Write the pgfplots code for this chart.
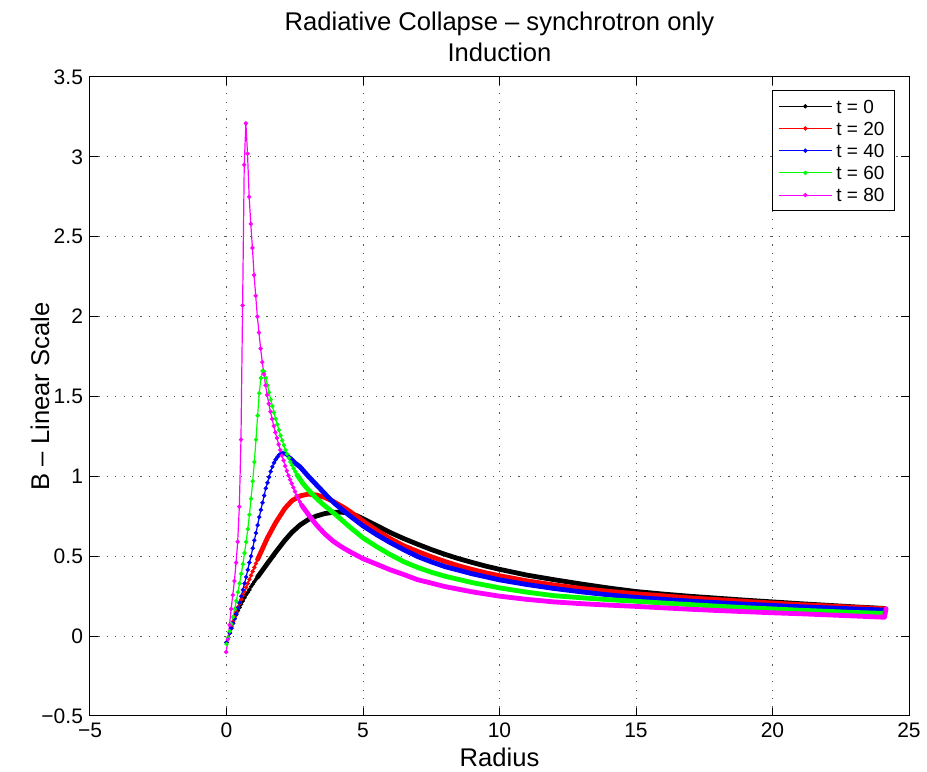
\documentclass[border=0pt]{standalone}
\usepackage{fontspec}
\setmainfont{Liberation Sans}
\usepackage{pgfplots}
\pgfplotsset{compat=1.18}
\definecolor{mred}{rgb}{1,0,0}
\definecolor{mgreen}{rgb}{0,1,0}
\definecolor{mblue}{rgb}{0,0,1}
\definecolor{mmag}{rgb}{1,0,1}
\begin{document}
\begin{tikzpicture}
\begin{axis}[
  width=409.5pt, height=319.5pt, scale only axis,
  xmin=-5, xmax=25, ymin=-0.5, ymax=3.5,
  xtick={-5,0,5,10,15,20,25},
  xticklabels={−5,0,5,10,15,20,25},
  ytick={-0.5,0,0.5,1,1.5,2,2.5,3,3.5},
  yticklabels={−0.5,0,0.5,1,1.5,2,2.5,3,3.5},
  tick align=inside, tick pos=both, major tick length=4pt,
  every tick/.style={black, line width=0.5pt},
  axis line style={black, line width=0.5pt},
  ticklabel style={font=\fontsize{10.5}{12}\selectfont},
  xmajorgrids, ymajorgrids,
  major grid style={black!65, line width=0.5pt, dash pattern=on 0.6pt off 3.6pt},
  title={Radiative Collapse – synchrotron only\\Induction},
  title style={font=\fontsize{12.8}{15.5}\selectfont, align=center, at={(axis description cs:0.5,1)}, anchor=south, inner sep=0pt, yshift=1.3pt},
  xlabel={Radius},
  xlabel style={font=\fontsize{12.8}{15}\selectfont, at={(axis description cs:0.5,-0.0642)}, anchor=center},
  ylabel={B – Linear Scale},
  ylabel style={font=\fontsize{12.8}{15}\selectfont, at={(axis description cs:-0.061,0.5)}, anchor=center, rotate=0},
  legend style={at={(1,1)}, anchor=north east, xshift=-7pt, yshift=-6.5pt, draw=black, line width=0.5pt,
    font=\fontsize{9.5}{11}\selectfont, inner xsep=3pt, inner ysep=2.5pt, row sep=0.3pt,
    nodes={text height=6.8pt, text depth=0pt, inner sep=2pt}},
  legend cell align=left,
  legend image code/.code={\draw[mark repeat=2,mark phase=2,#1,line width=0.5pt] plot coordinates {(0pt,0pt) (13.3pt,0pt) (26.6pt,0pt)};},
  mk/.style={mark=*, mark size=0.95pt, line width=0.6pt, mark options={solid, line width=0.3pt}},
  thk/.style={line width=2.4pt, line cap=round, line join=round, forget plot},
]
% ---------- t = 0 ----------
\addplot[black, mk] coordinates {
(0.00,-0.04) (0.06,-0.01) (0.12,0.02) (0.18,0.05) (0.24,0.08) (0.30,0.11) (0.36,0.135)
(0.42,0.16) (0.48,0.18) (0.54,0.20) (0.60,0.22) (0.66,0.24) (0.72,0.26) (0.78,0.275)
(0.84,0.29) (0.90,0.31) (0.96,0.325) (1.02,0.34) (1.08,0.355) (1.14,0.37) (1.20,0.385)};
\addlegendentry{t = 0}
\addplot[black, thk] coordinates {
(1.14,0.37) (1.5,0.455) (1.8,0.525) (2.14,0.60) (2.4,0.65) (2.69,0.695) (3.0,0.73)
(3.3,0.752) (3.6,0.767) (3.9,0.775) (4.2,0.776) (4.5,0.77) (4.75,0.755) (5.0,0.735)
(5.5,0.692) (6.0,0.648) (6.5,0.61) (7.0,0.575) (7.5,0.542) (8.0,0.512) (8.5,0.485)
(9.0,0.461) (9.5,0.438) (10,0.418) (11,0.382) (12,0.353) (13,0.326) (14,0.301) (15,0.279)
(16,0.263) (17,0.249) (18,0.237) (19,0.225) (20,0.214) (21,0.203) (22,0.193) (23,0.183) (24.1,0.173)};
% ---------- t = 20 ----------
\addplot[mred, mk] coordinates {
(0.00,-0.04) (0.06,-0.01) (0.12,0.025) (0.18,0.06) (0.24,0.09) (0.30,0.12) (0.36,0.15)
(0.42,0.18) (0.48,0.205) (0.54,0.23) (0.60,0.255) (0.66,0.28) (0.72,0.305) (0.78,0.33)
(0.84,0.355) (0.90,0.38) (0.96,0.405) (1.02,0.43) (1.08,0.455) (1.14,0.48) (1.20,0.505)};
\addlegendentry{t = 20}
\addplot[mred, thk] coordinates {
(1.14,0.48) (1.5,0.615) (1.8,0.71) (2.14,0.80) (2.4,0.848) (2.7,0.878) (3.0,0.889)
(3.3,0.883) (3.6,0.868) (3.91,0.843) (4.25,0.81) (4.5,0.783) (5.0,0.72) (5.5,0.662)
(6.0,0.61) (6.5,0.565) (7.0,0.53) (7.5,0.497) (8.0,0.467) (8.5,0.44) (9.0,0.417)
(9.5,0.396) (10,0.378) (11,0.346) (12,0.32) (13,0.298) (14,0.28) (15,0.265) (16,0.252)
(17,0.239) (18,0.228) (19,0.217) (20,0.207) (21,0.197) (22,0.189) (23,0.18) (24.1,0.171)};
% ---------- t = 40 ----------
\addplot[mblue, mk] coordinates {
(0.00,-0.04) (0.06,-0.01) (0.12,0.02) (0.18,0.05) (0.24,0.08) (0.30,0.11) (0.36,0.14)
(0.42,0.175) (0.48,0.21) (0.54,0.25) (0.60,0.29) (0.66,0.33) (0.72,0.37) (0.78,0.415)
(0.84,0.46) (0.90,0.50) (0.96,0.55) (1.02,0.60) (1.08,0.645) (1.14,0.695) (1.20,0.745)
(1.26,0.79) (1.32,0.835) (1.38,0.88) (1.44,0.925) (1.50,0.96) (1.56,0.995) (1.62,1.03)
(1.68,1.06) (1.74,1.085) (1.80,1.105) (1.86,1.12) (1.92,1.133) (1.98,1.141) (2.04,1.145)
(2.10,1.144) (2.16,1.14) (2.22,1.133) (2.28,1.124) (2.34,1.113) (2.40,1.10)};
\addlegendentry{t = 40}
\addplot[mblue, thk] coordinates {
(2.34,1.113) (2.5,1.085) (2.69,1.06) (3.0,1.0) (3.25,0.955) (3.5,0.91) (3.75,0.865)
(4.0,0.825) (4.5,0.755) (5.0,0.69) (5.5,0.635) (6.0,0.585) (6.5,0.54) (7.0,0.498)
(7.5,0.465) (8.0,0.435) (9.0,0.39) (10,0.352) (11,0.323) (12,0.298) (13,0.277) (14,0.258)
(15,0.242) (16,0.23) (17,0.219) (18,0.209) (19,0.20) (20,0.192) (21,0.184) (22,0.177)
(23,0.17) (24.1,0.163)};
% ---------- t = 60 ----------
\addplot[mgreen, mk] coordinates {
(0.00,-0.05) (0.06,-0.01) (0.12,0.03) (0.18,0.075) (0.24,0.12) (0.30,0.17) (0.36,0.22)
(0.42,0.275) (0.48,0.33) (0.54,0.39) (0.60,0.45) (0.66,0.52) (0.72,0.59) (0.78,0.67)
(0.84,0.76) (0.90,0.86) (0.96,0.97) (1.02,1.09) (1.08,1.23) (1.14,1.38) (1.20,1.52)
(1.26,1.615) (1.32,1.66) (1.38,1.655) (1.44,1.615) (1.50,1.57) (1.56,1.525) (1.62,1.48)
(1.68,1.44) (1.74,1.40) (1.80,1.36) (1.86,1.325) (1.92,1.29) (1.98,1.255) (2.04,1.225)
(2.10,1.195) (2.16,1.165) (2.22,1.14) (2.28,1.115) (2.34,1.09) (2.40,1.07) (2.46,1.05)
(2.52,1.03) (2.58,1.01) (2.64,0.995)};
\addlegendentry{t = 60}
\addplot[mgreen, thk] coordinates {
(2.58,1.01) (2.8,0.955) (3.0,0.915) (3.25,0.87) (3.5,0.83) (3.75,0.795) (4.0,0.76)
(4.5,0.685) (5.0,0.615) (5.5,0.56) (6.0,0.51) (6.5,0.465) (7.0,0.43) (7.5,0.40) (8.0,0.375)
(9.0,0.335) (10,0.302) (11,0.275) (12,0.253) (13,0.24) (14,0.228) (15,0.218) (16,0.207)
(17,0.197) (18,0.187) (19,0.178) (20,0.17) (21,0.162) (22,0.155) (23,0.148) (24.1,0.142)};
% ---------- t = 80 ----------
\addplot[mmag, mk] coordinates {
(-0.01,-0.10) (0.05,-0.02) (0.11,0.07) (0.17,0.17) (0.23,0.257) (0.29,0.345) (0.35,0.46)
(0.41,0.59) (0.47,0.81) (0.53,1.23) (0.59,2.07) (0.65,2.95) (0.71,3.21) (0.77,3.02)
(0.83,2.75) (0.89,2.58) (0.95,2.43) (1.01,2.26) (1.07,2.13) (1.13,2.00) (1.19,1.90)
(1.25,1.80) (1.31,1.715) (1.37,1.64) (1.43,1.57) (1.49,1.51) (1.55,1.455) (1.61,1.405)
(1.67,1.36) (1.73,1.315) (1.79,1.275) (1.85,1.24) (1.91,1.20) (1.97,1.165) (2.03,1.13)
(2.09,1.10) (2.15,1.065) (2.21,1.035) (2.27,1.005) (2.33,0.98) (2.39,0.955) (2.45,0.93)
(2.51,0.905) (2.57,0.88) (2.63,0.86) (2.69,0.84) (2.75,0.82) (2.81,0.80)};
\addlegendentry{t = 80}
\addplot[mmag, thk] coordinates {
(2.75,0.82) (3.06,0.747) (3.3,0.695) (3.6,0.64) (3.9,0.595) (4.2,0.56) (4.5,0.53)
(5.0,0.485) (5.5,0.45) (6.0,0.415) (6.5,0.385) (7.0,0.353) (7.5,0.332) (8.0,0.31)
(9.0,0.277) (10,0.25) (11,0.23) (12,0.214) (13,0.203) (14,0.194) (15,0.186) (16,0.177)
(17,0.168) (18,0.16) (19,0.153) (20,0.146) (21,0.14) (22,0.133) (23,0.126) (24.1,0.118) (24.16,0.171)};
\end{axis}
\pgfresetboundingbox
\path (current axis.south west) +(-45pt,-28pt) (current axis.north east) +(9pt,38.5pt);
\end{tikzpicture}
\end{document}
